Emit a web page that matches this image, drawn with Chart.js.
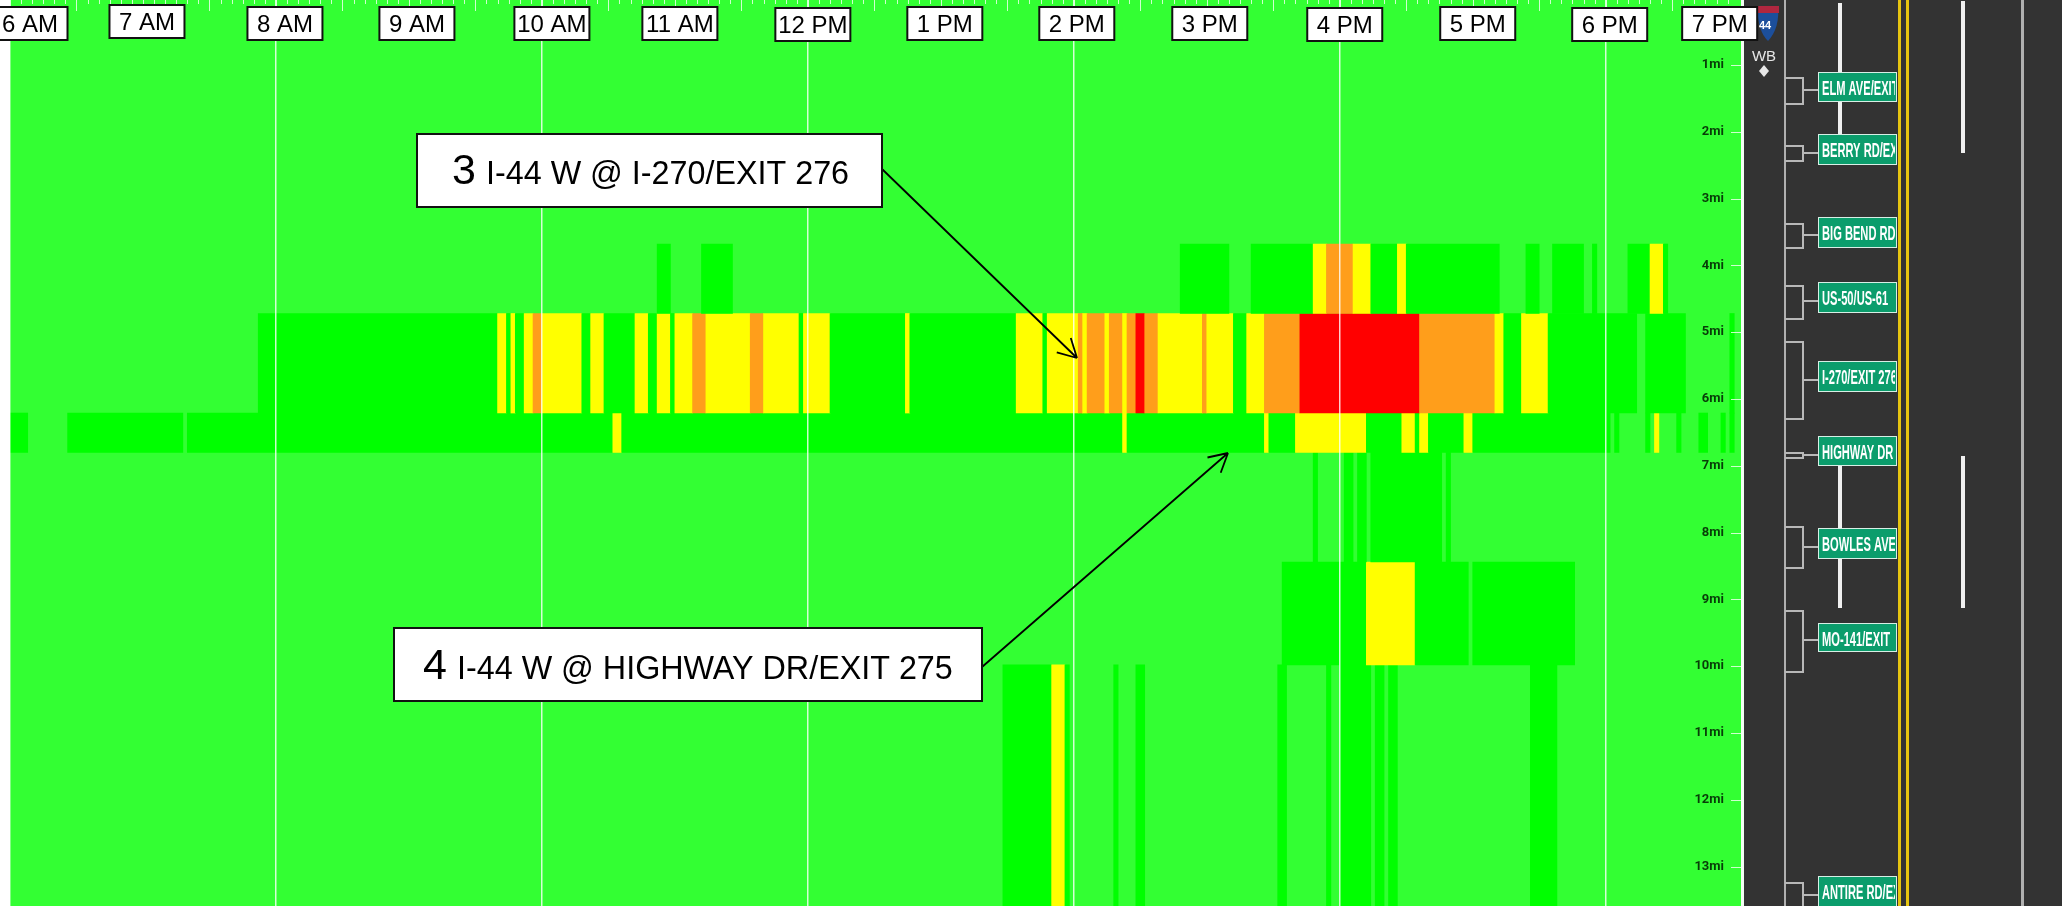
<!DOCTYPE html>
<html>
<head>
<meta charset="utf-8">
<title>I-44 W congestion heat map</title>
<script src="https://cdn.jsdelivr.net/npm/chart.js@4"></script>
<style>
  html, body { margin: 0; padding: 0; background: #fff; }
  canvas { display: block; }
</style>
</head>
<body>
<canvas id="heat" width="2062" height="906"></canvas>
<script>
// time is in minutes after midnight, distance in miles
const hourTicks = [360, 420, 480, 540, 600, 660, 720, 780, 840, 900, 960, 1020, 1080, 1140];
const hourLabels = ['6 AM', '7 AM', '8 AM', '9 AM', '10 AM', '11 AM', '12 PM', '1 PM', '2 PM', '3 PM', '4 PM', '5 PM', '6 PM', '7 PM'];
const gridTicks = [360, 480, 600, 720, 840, 960, 1080];
const mileTicks = [1, 2, 3, 4, 5, 6, 7, 8, 9, 10, 11, 12, 13];

// section limits along the road
const sectionEdges = [3.68, 4.72, 6.21, 6.80, 8.44, 9.98, 13.6];

// congestion level of each run: 1 light, 2 medium, 3 heavy, 4 severe
const section1 = [[652,658,1],[672,686,1],[888,910,1],[920,948,1],[948,954,2],[954,966,3],[966,974,2],[974,986,1],
  [986,990,2],[990,1032,1],[1044,1050,1],[1056,1070,1],[1074,1076,1],[1090,1100,1],[1100,1106,2],[1106,1108,1]];
const section2 = [[472,580,1],[580,584,2],[584,586,1],[586,588,2],[588,592,1],[592,596,2],[596,600,3],[600,618,2],
  [618,622,1],[622,628,2],[628,642,1],[642,648,2],[648,652,1],[652,658,2],[658,660,1],[660,668,2],[668,674,3],
  [674,694,2],[694,700,3],[700,716,2],[716,718,1],[718,730,2],[730,764,1],[764,766,2],[766,814,1],[814,826,2],
  [826,828,1],[828,842,2],[842,844,3],[844,846,2],[846,854,3],[854,856,2],[856,862,3],[862,864,2],[864,868,3],
  [868,872,4],[872,878,3],[878,898,2],[898,900,3],[900,912,2],[912,918,1],[918,926,2],[926,942,3],[942,996,4],
  [996,1030,3],[1030,1034,2],[1034,1042,1],[1042,1054,2],[1054,1094,1],[1098,1116,1],[1136,1138,1]];
const section3 = [[360,368,1],[386,438,1],[440,632,1],[632,636,2],[636,862,1],[862,864,2],[864,926,1],[926,928,2],
  [928,940,1],[940,972,2],[972,988,1],[988,994,2],[994,996,1],[996,1000,2],[1000,1016,1],[1016,1020,2],[1020,1082,1],
  [1084,1086,1],[1098,1100,1],[1102,1104,2],[1112,1114,1],[1122,1126,1],[1132,1134,1],[1136,1138,1]];
const section4 = [[948,950,1],[962,966,1],[968,972,1],[974,1006,1],[1008,1010,1]];
const section5 = [[934,972,1],[972,994,2],[994,1018,1],[1020,1066,1]];
const section6 = [[808,830,1],[830,836,2],[836,838,1],[858,860,1],[868,872,1],[932,936,1],[954,956,1],[960,974,1],
  [976,980,1],[982,986,1],[1046,1058,1]];
const sections = [section1, section2, section3, section4, section5, section6];

const signNames = ['ELM AVE/EXIT', 'BERRY RD/EXIT', 'BIG BEND RD', 'US-50/US-61', 'I-270/EXIT 276', 'HIGHWAY DR', 'BOWLES AVE/', 'MO-141/EXIT', 'ANTIRE RD/EXIT'];

const levelColors = ['#33ff33', '#00ff00', '#ffff00', '#ff9e1b', '#ff0000'];

// ---- layout of the decorations, in page pixels ----
const labelShift = [20, 4, 9, 8, 10, 5, 5, 4, 3, 3, 5, 5, 4, -19];
const labelTop = [7, 5, 7, 7, 7, 7, 8, 7, 7, 7, 8, 7, 8, 7];
const signBoxes = [[72, 102], [134, 165], [217, 248], [282, 313], [361, 392], [436, 466], [528, 559], [623, 652], [876, 907]];
const rampBoxes = [[78, 104, 90], [146, 161, 153], [224, 248, 235], [286, 319, 301], [342, 419, 380], [453, 458, 455], [527, 568, 547], [611, 672, 640], [883, 920, 895]];
const laneDashes = [[1840, 3, 134], [1840, 466, 608], [1963, 1, 153], [1963, 456, 608]];
const callouts = [
  { num: '3', text: 'I-44 W @ I-270/EXIT 276', box: [417, 134, 465, 73], numX: 452, textX: 486, base: 184, from: [882, 169], to: [1077, 358] },
  { num: '4', text: 'I-44 W @ HIGHWAY DR/EXIT 275', box: [394, 628, 588, 73], numX: 423, textX: 457, base: 679, from: [982, 667], to: [1228, 453] }
];

function drawArrow(ctx, from, to) {
  const ang = Math.atan2(to[1] - from[1], to[0] - from[0]);
  ctx.strokeStyle = '#000';
  ctx.lineWidth = 1.8;
  ctx.beginPath();
  ctx.moveTo(from[0], from[1]);
  ctx.lineTo(to[0], to[1]);
  [-0.5, 0.5].forEach(d => {
    ctx.moveTo(to[0], to[1]);
    ctx.lineTo(to[0] - 21 * Math.cos(ang + d), to[1] - 21 * Math.sin(ang + d));
  });
  ctx.stroke();
}

function drawRoad(ctx) {
  ctx.fillStyle = '#333333';
  ctx.fillRect(1744, 0, 318, 906);
  ctx.fillStyle = '#f4fff4';
  ctx.fillRect(1741, 0, 3, 906);

  // lanes
  ctx.fillStyle = '#b0b0b0';
  ctx.fillRect(1784, 0, 2, 906);
  ctx.fillRect(2021, 0, 3, 906);
  ctx.fillStyle = '#e6c410';
  ctx.fillRect(1898, 0, 3, 906);
  ctx.fillRect(1906, 0, 3, 906);
  ctx.fillStyle = '#f0f0f0';
  laneDashes.forEach(d => ctx.fillRect(d[0] - 2, d[1], 4, d[2] - d[1]));

  // ramps
  ctx.strokeStyle = '#b8b8b8';
  ctx.lineWidth = 2;
  rampBoxes.forEach(r => {
    ctx.beginPath();
    ctx.moveTo(1785, r[0]);
    ctx.lineTo(1803, r[0]);
    ctx.lineTo(1803, r[1]);
    ctx.lineTo(1785, r[1]);
    ctx.moveTo(1803, r[2]);
    ctx.lineTo(1818, r[2]);
    ctx.stroke();
  });

  // exit signs, the names are cut off by the edge of the sign
  signNames.forEach((name, i) => {
    const b = signBoxes[i];
    ctx.fillStyle = '#0b9d6c';
    ctx.fillRect(1818, b[0], 79, b[1] - b[0]);
    ctx.strokeStyle = '#d8efe6';
    ctx.lineWidth = 1;
    ctx.strokeRect(1818.5, b[0] + 0.5, 78, b[1] - b[0] - 1);
    ctx.save();
    ctx.beginPath();
    ctx.rect(1820, b[0], 75, b[1] - b[0]);
    ctx.clip();
    ctx.translate(1822, b[0] + 23);
    ctx.scale(0.53, 1);
    ctx.fillStyle = '#ffffff';
    ctx.font = 'bold 21px "Liberation Sans"';
    ctx.textAlign = 'left';
    ctx.textBaseline = 'alphabetic';
    ctx.fillText(name, 0, 0);
    ctx.restore();
  });

  // interstate shield
  ctx.beginPath();
  ctx.moveTo(1757, 6);
  ctx.lineTo(1778, 6);
  ctx.quadraticCurveTo(1780, 28, 1768, 41);
  ctx.quadraticCurveTo(1758, 32, 1757, 6);
  ctx.closePath();
  ctx.fillStyle = '#1c4f9c';
  ctx.fill();
  ctx.fillStyle = '#b0273f';
  ctx.fillRect(1757, 6, 22, 7);
  ctx.fillStyle = '#fff';
  ctx.font = 'bold 11px "Liberation Sans"';
  ctx.textAlign = 'center';
  ctx.textBaseline = 'middle';
  ctx.fillText('44', 1765, 26);

  // direction
  ctx.fillStyle = '#e8e8e8';
  ctx.font = '15px "Liberation Sans"';
  ctx.fillText('WB', 1764, 57);
  ctx.beginPath();
  ctx.moveTo(1764, 65);
  ctx.lineTo(1769, 71);
  ctx.lineTo(1764, 77);
  ctx.lineTo(1759, 71);
  ctx.closePath();
  ctx.fill();
}

const backdrop = {
  id: 'backdrop',
  beforeDraw(chart) {
    const ctx = chart.ctx, a = chart.chartArea;
    ctx.save();
    ctx.fillStyle = '#ffffff';
    ctx.fillRect(0, 0, chart.width, chart.height);
    ctx.fillStyle = levelColors[0];
    ctx.fillRect(a.left, a.top, a.right - a.left, a.bottom - a.top);
    ctx.restore();
  }
};

const overlay = {
  id: 'overlay',
  afterDraw(chart) {
    const ctx = chart.ctx, x = chart.scales.x, y = chart.scales.y, a = chart.chartArea;
    ctx.save();

    // five minute marks along the top
    ctx.strokeStyle = 'rgba(235,255,235,0.85)';
    ctx.lineWidth = 1;
    for (let m = 360; m < 1140; m += 5) {
      const len = m % 60 === 30 ? 11 : (m % 60 === 0 ? 7 : 4);
      const px = Math.round(x.getPixelForValue(m)) + 0.5;
      ctx.beginPath();
      ctx.moveTo(px, 0);
      ctx.lineTo(px, len);
      ctx.stroke();
    }

    // mile marks next to the labels
    mileTicks.forEach(m => {
      const py = Math.round(y.getPixelForValue(m)) + 0.5;
      ctx.beginPath();
      ctx.moveTo(a.right - 11, py);
      ctx.lineTo(a.right, py);
      ctx.stroke();
    });

    drawRoad(ctx);

    // hour boxes
    hourLabels.forEach((label, i) => {
      const cx = x.getPixelForValue(hourTicks[i]) + labelShift[i];
      ctx.fillStyle = '#ffffff';
      ctx.fillRect(cx - 37.5, labelTop[i], 75, 33);
      ctx.strokeStyle = '#111';
      ctx.lineWidth = 2;
      ctx.strokeRect(cx - 37.5, labelTop[i], 75, 33);
      ctx.fillStyle = '#000';
      ctx.font = '24px "Liberation Sans"';
      ctx.textAlign = 'center';
      ctx.textBaseline = 'alphabetic';
      ctx.fillText(label, cx, labelTop[i] + 25);
    });

    // callouts
    callouts.forEach(c => {
      drawArrow(ctx, c.from, c.to);
      ctx.fillStyle = '#ffffff';
      ctx.fillRect(c.box[0], c.box[1], c.box[2], c.box[3]);
      ctx.strokeStyle = '#111';
      ctx.lineWidth = 2;
      ctx.strokeRect(c.box[0], c.box[1], c.box[2], c.box[3]);
      ctx.fillStyle = '#000';
      ctx.textAlign = 'left';
      ctx.textBaseline = 'alphabetic';
      ctx.font = '43px "Liberation Sans"';
      ctx.fillText(c.num, c.numX, c.base);
      ctx.font = '32.3px "Liberation Sans"';
      ctx.fillText(c.text, c.textX, c.base);
    });
    ctx.restore();
  }
};

// one bar dataset per road section, as tall as the section is long
const datasets = sections.map((runs, i) => {
  const m0 = sectionEdges[i], m1 = sectionEdges[i + 1];
  return {
    data: runs.map(r => ({ x: [r[0], r[1]], y: (m0 + m1) / 2 })),
    backgroundColor: runs.map(r => levelColors[r[2]]),
    barThickness: ctx => {
      const s = ctx.chart.scales.y;
      return s.getPixelForValue(m1) - s.getPixelForValue(m0);
    },
    grouped: false,
    borderWidth: 0
  };
});

// the axes sit inside the plot, so they must not take any room from it
function noRoom(s) {
  if (s.axis === 'y') s.width = 0; else s.height = 0;
  s.paddingLeft = s.paddingRight = s.paddingTop = s.paddingBottom = 0;
}

new Chart(document.getElementById('heat').getContext('2d'), {
  type: 'bar',
  data: { datasets },
  options: {
    indexAxis: 'y',
    responsive: false,
    animation: false,
    layout: { padding: { left: 10, right: 320, top: 0, bottom: 0 } },
    plugins: { legend: { display: false }, tooltip: { enabled: false } },
    scales: {
      x: {
        type: 'linear',
        min: 360,
        max: 1141.5,
        beginAtZero: false,
        afterBuildTicks: s => { s.ticks = gridTicks.map(v => ({ value: v })); },
        afterFit: noRoom,
        ticks: { display: false },
        border: { display: false },
        grid: { z: 1, color: 'rgba(255,255,255,0.8)', lineWidth: 1.5, drawTicks: false }
      },
      y: {
        type: 'linear',
        position: 'right',
        reverse: true,
        min: 0.027,
        max: 13.59,
        offset: false,
        afterBuildTicks: s => { s.ticks = mileTicks.map(v => ({ value: v })); },
        afterFit: noRoom,
        ticks: {
          mirror: true,
          padding: -18,
          z: 2,
          color: '#083d08',
          font: { family: 'Roboto', weight: 'bold', size: 13 },
          callback: v => v + 'mi'
        },
        border: { display: false },
        grid: { display: false, offset: false, drawTicks: false }
      }
    }
  },
  plugins: [backdrop, overlay]
});
</script>
</body>
</html>
